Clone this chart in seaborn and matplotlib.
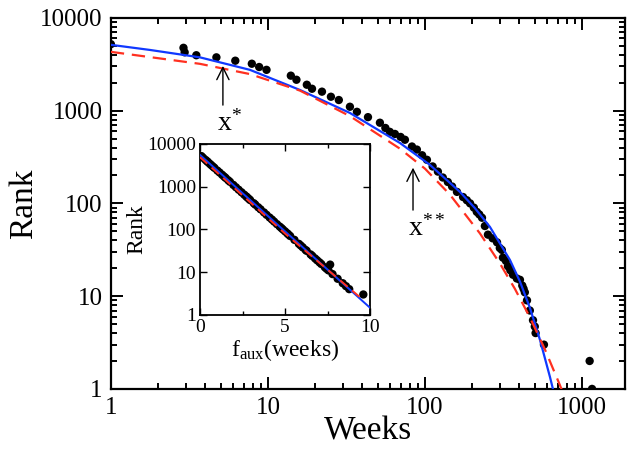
import numpy as np
import pandas as pd
import seaborn as sns
import matplotlib.pyplot as plt
from matplotlib.ticker import LogLocator, NullFormatter, FixedLocator

# данные
weeks = [1, 2.9, 2.95, 3.5, 4.7, 6.2, 7.9, 8.8, 9.8, 14.0, 15.2, 17.7, 19.1,
         22.1, 25.2, 28.3, 33.3, 36.9, 43.4, 51.7, 56, 59.8, 64.4, 70, 74.6,
         82.7, 88.9, 96, 103, 112, 121, 130, 140, 149, 160, 175, 185, 194,
         205, 214, 222, 231, 241, 252, 270, 288, 300, 309, 314, 328, 338,
         350, 364, 385, 403, 417, 425, 433, 447, 466, 488, 501, 507, 573,
         1120, 1160]
rank = [5200, 4750, 4250, 3950, 3750, 3450, 3200, 2950, 2750, 2380, 2150,
        1900, 1720, 1600, 1410, 1300, 1100, 970, 850, 740, 650, 590, 560,
        520, 485, 410, 380, 330, 295, 250, 220, 190, 170, 152, 133, 117,
        108, 100, 90, 81, 76, 70, 57, 46, 42, 38, 33, 31.5, 26, 24, 21, 19,
        17, 15.5, 15, 13, 12, 11, 9, 7, 5.5, 4.7, 4, 3, 2, 1]

# сплошная синяя кривая
fit1_x = [1, 1.77, 3.69, 7.68, 16.0, 33.3, 69.3, 107.6, 167.1, 208.2, 259.4,
          347.8, 402.9, 466.5, 540, 625.5, 683]
fit1_y = [5117, 4508, 3750, 2750, 1669, 943, 448, 260, 133, 88.8, 55.8,
          24.6, 14.4, 7.47, 3.40, 1.35, 0.74]

# красная штриховая кривая
fit2_x = [1, 3.69, 7.68, 16.0, 33.3, 69.3, 100, 144.3, 224, 300.4, 374.3,
          466.5, 581, 724, 779]
fit2_y = [4299, 3192, 2475, 1643, 872, 389, 237, 124.3, 47.5, 22.5, 11.98,
          5.90, 2.67, 1.10, 0.80]

# вставка
f_aux = [0.08, 0.18, 0.32, 0.41, 0.47, 0.57, 0.66, 0.76, 0.85, 1.02, 1.15,
         1.30, 1.42, 1.51, 1.66, 1.76, 1.96, 2.11, 2.27, 2.44, 2.60, 2.72,
         2.78, 2.87, 2.95, 3.16, 3.25, 3.42, 3.56, 3.76, 3.91, 4.09, 4.23,
         4.36, 4.52, 4.68, 4.78, 4.87, 5.00, 5.13, 5.20, 5.30, 5.55, 5.81,
         5.92, 6.04, 6.21, 6.27, 6.50, 6.60, 6.76, 6.88, 7.02, 7.13, 7.65,
         7.34, 7.44, 7.55, 7.79, 8.09, 8.39, 8.58, 8.77, 9.6]
rank_in = rank[:64]
in_fit1_x = [0, 10]
in_fit1_y = [5530, 1.46]
in_fit2_x = [0, 5, 9.5]
in_fit2_y = [4900, 80, 2.4]

BLUE = '#1038ff'
RED = '#ff3020'

sns.set_theme(style='ticks')
plt.rcParams['font.family'] = ['Liberation Serif', 'DejaVu Serif']
plt.rcParams['mathtext.fontset'] = 'custom'
plt.rcParams['mathtext.rm'] = 'Liberation Serif'
plt.rcParams['mathtext.it'] = 'Liberation Serif'
plt.rcParams['text.color'] = 'black'
plt.rcParams['axes.labelcolor'] = 'black'

fig = plt.figure(figsize=(6.3, 4.57), dpi=100)
ax = fig.add_axes([0.176, 0.149, 0.816, 0.812])

df = pd.DataFrame({'Weeks': weeks, 'Rank': rank})
sns.scatterplot(data=df, x='Weeks', y='Rank', ax=ax, color='black', s=36,
                edgecolor='none', zorder=2)
sns.lineplot(x=fit1_x, y=fit1_y, ax=ax, color=BLUE, lw=1.6, sort=False,
             estimator=None, zorder=3)
sns.lineplot(x=fit2_x, y=fit2_y, ax=ax, color=RED, lw=1.6, sort=False,
             estimator=None, zorder=3, linestyle=(0, (6, 3.5)))

ax.set_xscale('log')
ax.set_yscale('log')
ax.set_xlim(1, 1880)
ax.set_ylim(1, 10000)
ax.set_xticks([1, 10, 100, 1000])
ax.set_xticklabels(['1', '10', '100', '1000'])
ax.set_yticks([1, 10, 100, 1000, 10000])
ax.set_yticklabels(['1', '10', '100', '1000', '10000'])
ax.xaxis.set_minor_locator(LogLocator(base=10, subs=np.arange(2, 10)))
ax.yaxis.set_minor_locator(LogLocator(base=10, subs=np.arange(2, 10)))
ax.xaxis.set_minor_formatter(NullFormatter())
ax.yaxis.set_minor_formatter(NullFormatter())
ax.tick_params(which='both', direction='in', top=True, right=True,
               width=1.4, colors='black')
ax.tick_params(which='major', length=8.5, labelsize=18, pad=6)
ax.tick_params(which='minor', length=4.3)
for s in ax.spines.values():
    s.set_linewidth(1.6)
    s.set_color('black')
ax.set_xlabel('Weeks', fontsize=24, labelpad=-2)
ax.set_ylabel('Rank', fontsize=24, labelpad=1)

# стрелки x* и x**
arrow = dict(arrowstyle='->', color='black', lw=1.0, mutation_scale=22)
ax.annotate('', xy=(5.17, 3250), xytext=(5.17, 1070), arrowprops=arrow)
ax.text(4.75, 1000, r'x$^{*}$', fontsize=20, ha='left', va='top')
ax.annotate('', xy=(84, 260), xytext=(84, 79), arrowprops=arrow)
ax.text(78, 74, r'x$^{**}$', fontsize=20, ha='left', va='top')

# вставка
ins = fig.add_axes([0.3175, 0.311, 0.27, 0.374])
dfi = pd.DataFrame({'f': f_aux, 'Rank': rank_in})
sns.scatterplot(data=dfi, x='f', y='Rank', ax=ins, color='black', s=36,
                edgecolor='none', zorder=2)
sns.lineplot(x=in_fit1_x, y=in_fit1_y, ax=ins, color=BLUE, lw=1.4,
             estimator=None, zorder=3)
sns.lineplot(x=in_fit2_x, y=in_fit2_y, ax=ins, color=RED, lw=1.4,
             estimator=None, zorder=3, linestyle=(0, (5, 3)))
ins.set_yscale('log')
ins.set_xlim(0, 10)
ins.set_ylim(1, 10000)
ins.set_xticks([0, 5, 10])
ins.set_xticklabels(['0', '5', '10'])
ins.xaxis.set_minor_locator(FixedLocator([2.5, 7.5]))
ins.set_yticks([1, 10, 100, 1000, 10000])
ins.set_yticklabels(['1', '10', '100', '1000', '10000'])
ins.yaxis.set_minor_locator(FixedLocator([]))
ins.tick_params(which='both', direction='in', top=True, right=True,
                width=1.0, colors='black')
ins.tick_params(which='major', length=5, labelsize=14, pad=3)
ins.tick_params(which='minor', length=3)
for s in ins.spines.values():
    s.set_linewidth(1.3)
    s.set_color('black')
ins.set_xlabel(r'f$_{\mathregular{aux}}$(weeks)', fontsize=17, labelpad=1)
ins.set_ylabel('Rank', fontsize=17, labelpad=0)

fig.savefig('out.png', dpi=100)
